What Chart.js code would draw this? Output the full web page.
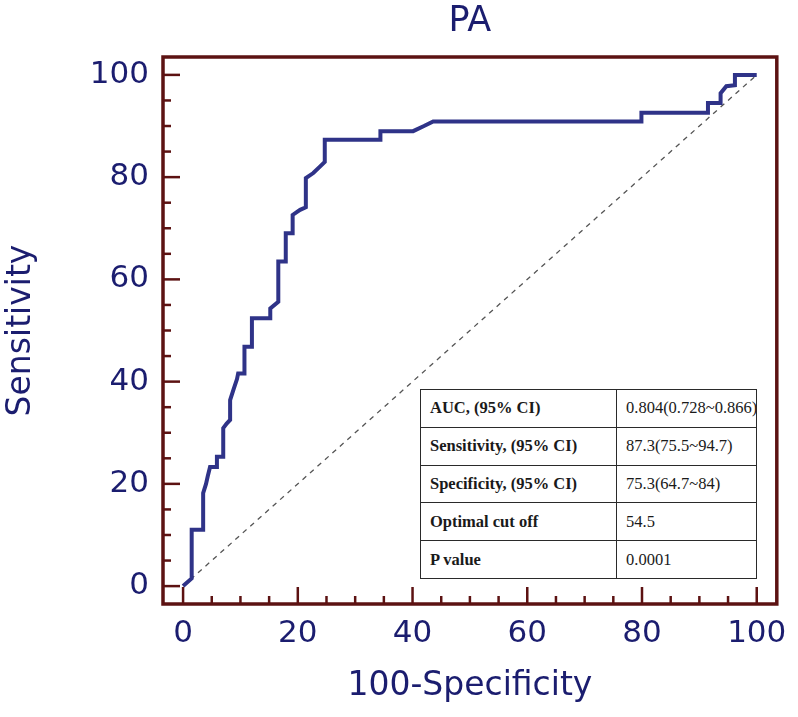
<!DOCTYPE html>
<html><head><meta charset="utf-8">
<script src="https://cdn.jsdelivr.net/npm/chart.js@4.4.1/dist/chart.umd.min.js"></script>
<style>
html,body{margin:0;padding:0;background:#fff;}
#wrap{position:relative;width:798px;height:717px;}
#stats{position:absolute;left:420px;top:389px;width:337px;border-collapse:collapse;font-family:"Liberation Serif","Times New Roman",serif;font-size:16.5px;color:#1a1a1a;background:#fff;table-layout:fixed;}
#stats tr{height:37.8px;}
#stats td{border:1.5px solid #2a2a2a;padding:0 0 0 9px;white-space:nowrap;overflow:hidden;}
#stats td.k{font-weight:bold;width:186px;}
</style></head>
<body><div id="wrap"><canvas id="c" width="798" height="717"></canvas><table id="stats"></table></div>
<script>
// ROC curve vertices
const fpr  = [0, 1.5, 1.5, 3.5, 3.5, 4.0, 4.3, 4.7, 5.9, 5.9, 7.0, 7.0, 7.6, 8.2, 8.2, 8.8, 9.4, 9.6, 10.7, 10.7, 12.0, 12.0, 15.2, 15.2, 16.6, 16.6, 17.9, 17.9, 19.1, 19.1, 20.4, 21.4, 21.4, 22.7, 23.9, 24.7, 24.7, 34.4, 34.4, 40.1, 42.0, 43.6, 79.9, 79.9, 91.5, 91.5, 93.7, 93.7, 94.7, 96.2, 96.2, 100];
const sens = [0, 1.5, 11, 11, 18.2, 20, 21.5, 23.3, 23.3, 25.3, 25.3, 30.9, 31.8, 32.5, 36.4, 38.5, 40.5, 41.6, 41.6, 46.8, 46.8, 52.4, 52.4, 54.3, 55.6, 63.5, 63.5, 69.0, 69.0, 72.6, 73.6, 74.1, 79.8, 80.8, 82.1, 83.0, 87.3, 87.3, 89.0, 89.0, 90.0, 90.9, 90.9, 92.6, 92.6, 94.5, 94.5, 96.4, 97.8, 98.0, 100, 100];
const refX = [0, 100];
const refY = [0, 100];
const majorTicks = [0, 20, 40, 60, 80, 100];
const minorTicks = [0, 5, 10, 15, 20, 25, 30, 35, 40, 45, 50, 55, 60, 65, 70, 75, 80, 85, 90, 95, 100];
const statLabels = ["AUC, (95% CI)", "Sensitivity, (95% CI)", "Specificity, (95% CI)", "Optimal cut off", "P value"];
const statValues = ["0.804(0.728~0.866)", "87.3(75.5~94.7)", "75.3(64.7~84)", "54.5", "0.0001"];

const NAVY = '#1b1d6f';
const FRAME = '#5c1212';
const CURVE = '#2f3388';

// stats table as real text
const tbl = document.getElementById('stats');
statLabels.forEach((l, i) => {
  const tr = document.createElement('tr');
  const a = document.createElement('td'); a.className = 'k'; a.textContent = l;
  const b = document.createElement('td'); b.textContent = statValues[i];
  tr.appendChild(a); tr.appendChild(b); tbl.appendChild(tr);
});

const framePlugin = {
  id: 'frame',
  afterLayout(chart) {
    const t = chart.titleBlock, a = chart.chartArea;
    if (t) { t.left = a.left; t.right = a.right; t.width = a.right - a.left; }
  },
  afterDatasetsDraw(chart) {
    const {ctx, chartArea: a, scales: {x, y}} = chart;
    ctx.save();
    ctx.strokeStyle = FRAME;
    ctx.lineWidth = 2.5;
    minorTicks.forEach(v => {
      const len = majorTicks.includes(v) ? 17 : 8;
      const px = x.getPixelForValue(v);
      ctx.beginPath(); ctx.moveTo(px, a.bottom); ctx.lineTo(px, a.bottom - len); ctx.stroke();
      const py = y.getPixelForValue(v);
      ctx.beginPath(); ctx.moveTo(a.left, py); ctx.lineTo(a.left + len, py); ctx.stroke();
    });
    ctx.lineWidth = 3.5;
    ctx.strokeRect(a.left, a.top, a.right - a.left, a.bottom - a.top);
    ctx.restore();
  }
};

const tickFont = {family: 'DejaVu Sans', size: 31};
new Chart(document.getElementById('c'), {
  type: 'scatter',
  data: {
    datasets: [
      {label: 'PA', data: fpr.map((v, i) => ({x: v, y: sens[i]})), showLine: true,
       borderColor: CURVE, borderWidth: 4, pointRadius: 0, tension: 0, fill: false},
      {label: 'Reference', data: refX.map((v, i) => ({x: v, y: refY[i]})), showLine: true,
       borderColor: '#555555', borderWidth: 1.3, borderDash: [5, 5], pointRadius: 0, fill: false}
    ]
  },
  options: {
    responsive: false, animation: false, devicePixelRatio: 1,
    layout: {padding: {left: 0, right: 21, top: 0, bottom: 0}},
    plugins: {
      legend: {display: false}, tooltip: {enabled: false},
      title: {display: true, text: 'PA', color: NAVY,
              font: {family: 'DejaVu Sans', size: 35, weight: 'normal', lineHeight: 1},
              padding: {top: 4, bottom: 18}}
    },
    scales: {
      x: {type: 'linear', min: -3.5, max: 103.5,
          grid: {display: false, drawTicks: false}, border: {display: false},
          afterBuildTicks: s => { s.ticks = majorTicks.map(v => ({value: v})); },
          afterFit: s => { s.height = 113; },
          ticks: {color: NAVY, font: tickFont, padding: 11, maxRotation: 0, autoSkip: false},
          title: {display: true, text: '100-Specificity', color: NAVY,
                  font: {family: 'DejaVu Sans', size: 33}, padding: {top: 0, bottom: 10.7}}},
      y: {type: 'linear', min: -3.5, max: 103.5,
          grid: {display: false, drawTicks: false}, border: {display: false},
          afterBuildTicks: s => { s.ticks = majorTicks.map(v => ({value: v})); },
          afterFit: s => { s.width = 163; },
          ticks: {color: NAVY, font: tickFont, padding: 14, autoSkip: false},
          title: {display: true, text: 'Sensitivity', color: NAVY,
                  font: {family: 'DejaVu Sans', size: 33}, padding: {top: 2, bottom: 0}}}
    }
  },
  plugins: [framePlugin]
});
</script>
</body></html>
